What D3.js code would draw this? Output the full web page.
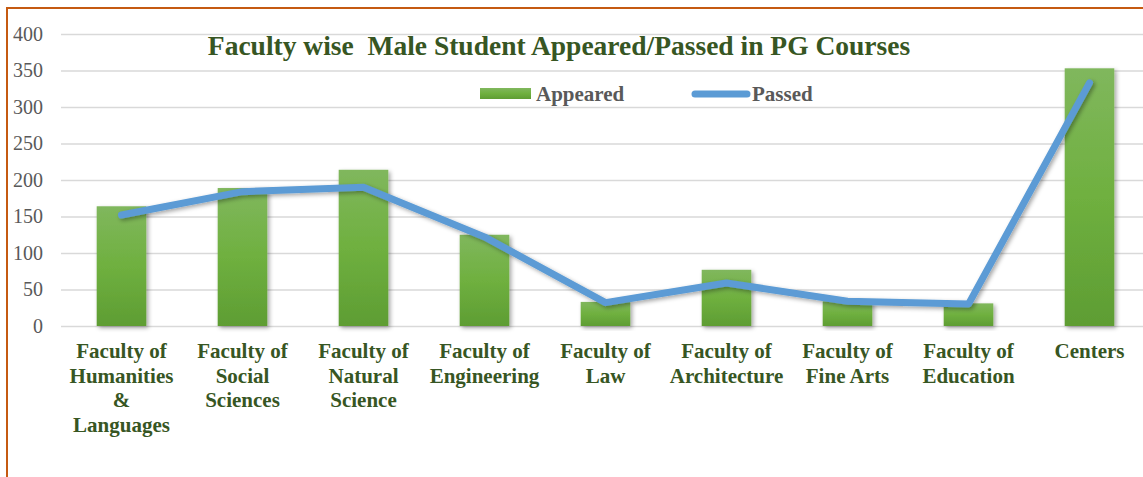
<!DOCTYPE html>
<html>
<head>
<meta charset="utf-8">
<script src="https://cdn.jsdelivr.net/npm/d3@7"></script>
<style>
  body { margin: 0; background: #fff; }
  svg { display: block; }
  svg text { font-family: "Liberation Serif", "Times New Roman", Times, serif; }
</style>
</head>
<body>
<svg id="chart" width="1143" height="477"></svg>
<script>
  const faculties = [
    ["Faculty of", "Humanities", "&", "Languages"],
    ["Faculty of", "Social", "Sciences"],
    ["Faculty of", "Natural", "Science"],
    ["Faculty of", "Engineering"],
    ["Faculty of", "Law"],
    ["Faculty of", "Architecture"],
    ["Faculty of", "Fine Arts"],
    ["Faculty of", "Education"],
    ["Centers"]
  ];
  const appeared = [164, 189, 214, 125, 33, 77, 34, 31, 353];
  const passed = [152, 184, 190, 122, 32, 59, 34, 30, 333];
  const yTicks = [0, 50, 100, 150, 200, 250, 300, 350, 400];

  const margin = { top: 34, right: -7, bottom: 151, left: 61 };
  const svg = d3.select("#chart"),
    width = +svg.attr("width") - margin.left - margin.right,
    height = +svg.attr("height") - margin.top - margin.bottom;

  // gradient + shadow
  const defs = svg.append("defs");
  const grad = defs.append("linearGradient").attr("id", "barGrad")
    .attr("x1", 0).attr("y1", 0).attr("x2", 0).attr("y2", 1);
  grad.append("stop").attr("offset", "0%").attr("stop-color", "#80b75d");
  grad.append("stop").attr("offset", "50%").attr("stop-color", "#6fb03f");
  grad.append("stop").attr("offset", "100%").attr("stop-color", "#5e9d33");
  const sh = defs.append("filter").attr("id", "shadow")
    .attr("x", "-20%").attr("y", "-20%").attr("width", "140%").attr("height", "140%");
  sh.append("feDropShadow").attr("dx", 2).attr("dy", 2).attr("stdDeviation", 2)
    .attr("flood-color", "#000").attr("flood-opacity", 0.35);

  // frame
  svg.append("path")
    .attr("d", "M7,477 L7,8 L1143,8")
    .attr("fill", "none").attr("stroke", "#c55a11").attr("stroke-width", 2);

  const g = svg.append("g").attr("transform", `translate(${margin.left},${margin.top})`);

  const x = d3.scaleBand().domain(d3.range(faculties.length)).range([0, width]).paddingInner(0.59).paddingOuter(0.295);
  const y = d3.scaleLinear().domain([0, 400]).range([height, 0]);

  // gridlines
  g.append("g")
    .call(d3.axisLeft(y).tickValues(yTicks).tickSize(-width).tickFormat(""))
    .call(a => a.select(".domain").remove())
    .call(a => a.selectAll("line").attr("stroke", "#d9d9d9").attr("stroke-width", 1.3));

  // y labels
  g.append("g")
    .attr("transform", "translate(-18,0)")
    .call(d3.axisLeft(y).tickValues(yTicks).tickSize(0).tickPadding(0))
    .call(a => a.select(".domain").remove())
    .call(a => a.selectAll("text")
      .attr("fill", "#595959")
      .style("font-size", "20px"));

  // bars
  g.selectAll(".bar")
    .data(appeared)
    .enter().append("rect")
    .attr("class", "bar")
    .attr("x", (d, i) => x(i))
    .attr("width", x.bandwidth())
    .attr("y", d => y(d))
    .attr("height", d => height - y(d))
    .attr("fill", "url(#barGrad)")
    .attr("filter", "url(#shadow)");

  // line
  const line = d3.line()
    .x((d, i) => x(i) + x.bandwidth() / 2)
    .y(d => y(d));
  g.append("path")
    .datum(passed)
    .attr("d", line)
    .attr("fill", "none")
    .attr("stroke", "#5b9bd5")
    .attr("stroke-width", 7)
    .attr("stroke-linejoin", "round")
    .attr("stroke-linecap", "round")
    .attr("filter", "url(#shadow)");

  // x labels
  const labelG = g.append("g").attr("transform", `translate(0,${height})`);
  faculties.forEach((lines, i) => {
    const t = labelG.append("text")
      .attr("x", x(i) + x.bandwidth() / 2)
      .attr("y", 32)
      .attr("text-anchor", "middle")
      .attr("fill", "#375623")
      .style("font-weight", "bold")
      .style("font-size", "21px");
    lines.forEach((s, j) => {
      t.append("tspan").attr("x", x(i) + x.bandwidth() / 2).attr("dy", j === 0 ? 0 : 24.5).text(s);
    });
  });

  // title
  svg.append("text")
    .attr("x", 559)
    .attr("y", 55)
    .attr("text-anchor", "middle")
    .attr("fill", "#375623")
    .style("font-weight", "bold")
    .style("font-size", "27.5px")
    .style("white-space", "pre")
    .text("Faculty wise  Male Student Appeared/Passed in PG Courses");

  // legend
  const legend = svg.append("g");
  legend.append("rect")
    .attr("x", 480).attr("y", 88).attr("width", 51).attr("height", 11)
    .attr("fill", "url(#barGrad)");
  legend.append("text")
    .attr("x", 536).attr("y", 101)
    .attr("fill", "#595959")
    .style("font-weight", "bold")
    .style("font-size", "21px")
    .text("Appeared");
  legend.append("line")
    .attr("x1", 695).attr("x2", 747).attr("y1", 94).attr("y2", 94)
    .attr("stroke", "#5b9bd5").attr("stroke-width", 7).attr("stroke-linecap", "round");
  legend.append("text")
    .attr("x", 752).attr("y", 101)
    .attr("fill", "#595959")
    .style("font-weight", "bold")
    .style("font-size", "21px")
    .text("Passed");
</script>
</body>
</html>
